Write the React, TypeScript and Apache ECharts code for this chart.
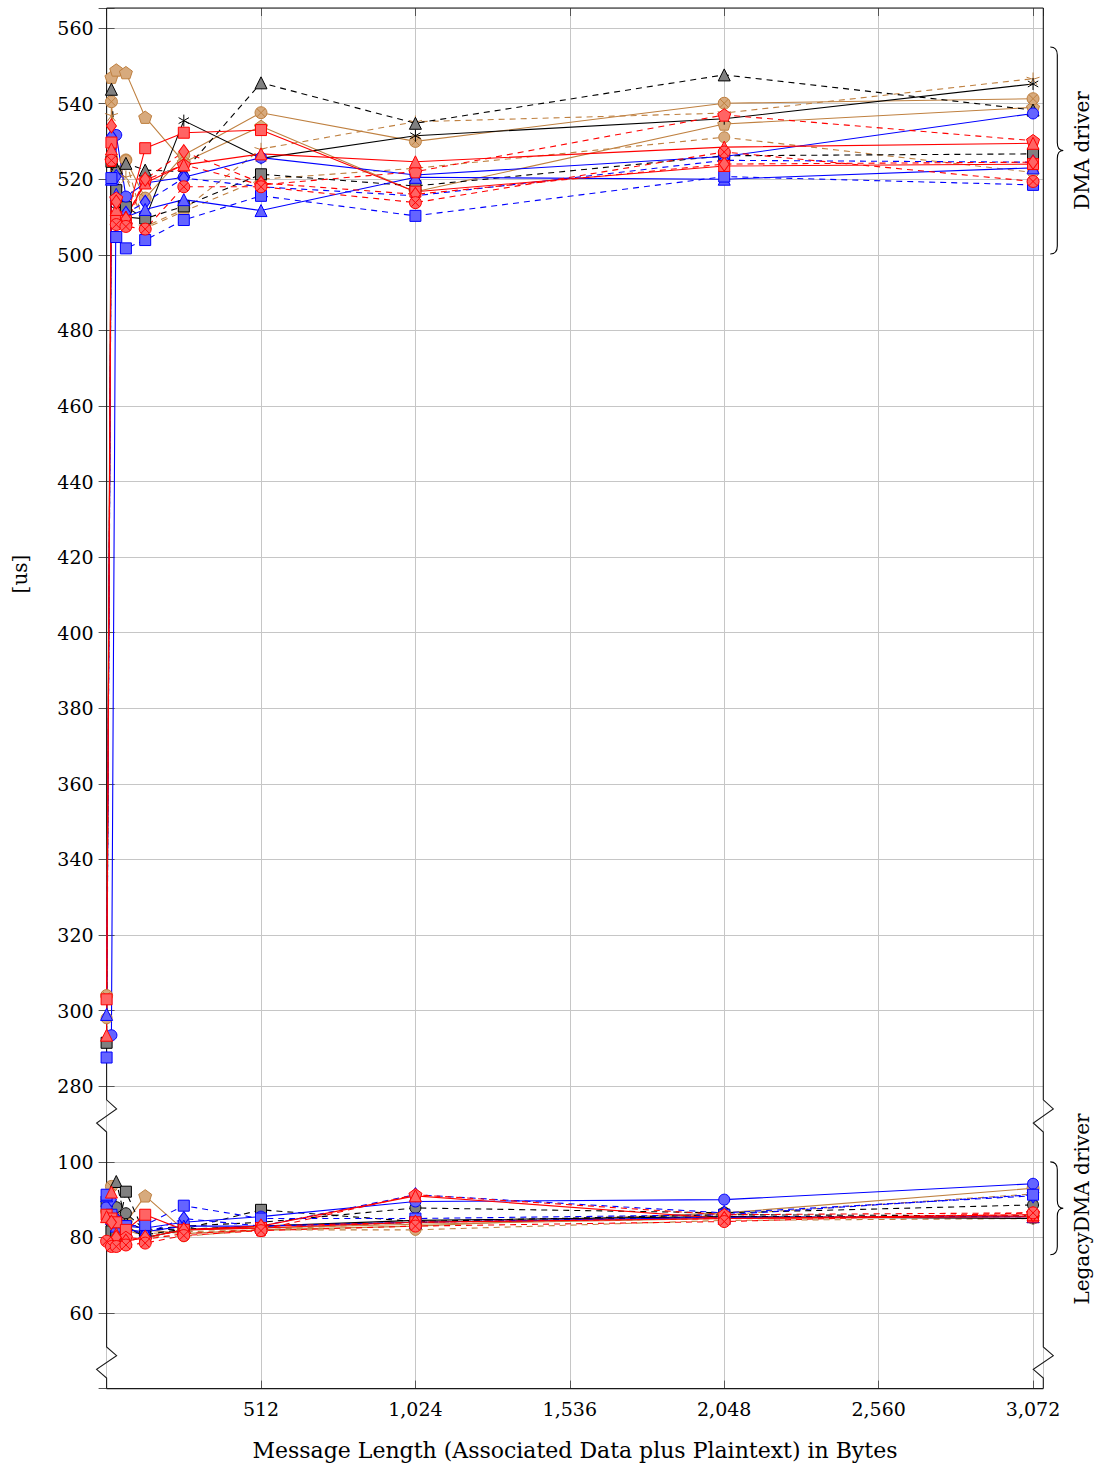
import React, { useEffect, useRef } from 'react';
import * as echarts from 'echarts';

// Message lengths (bytes)
const X = [0, 16, 32, 64, 128, 256, 512, 1024, 2048, 3072];
// Lower block (LegacyDMA) is drawn shifted up by this much on the broken axis
const LOWER_SHIFT = 160;
const X_TICKS = [512, 1024, 1536, 2048, 2560, 3072];
const Y_UPPER_TICKS = [280, 300, 320, 340, 360, 380, 400, 420, 440, 460, 480, 500, 520, 540, 560];
const Y_LOWER_TICKS = [60, 80, 100];

// DMA driver (upper) and LegacyDMA driver (lower) timings in us
const tanPentUpper = [null, 547.0, 548.9, 548.2, 536.4, 524.5, 534.0, 516.7, 534.6, 539.0];
const tanPentLower = [null, 87.5, 86.0, 84.0, 91.0, 82.0, 82.5, 83.5, 85.0, 85.5];
const tanOtimesUpper = [304.0, 540.5, 522.0, 525.1, 515.0, 526.4, 537.6, 530.0, 540.1, 541.3];
const tanOtimesLower = [87.0, 93.5, 85.0, 84.0, 82.0, 81.0, 82.0, 83.0, 86.5, 93.0];
const tanStarUpper = [null, 537.0, 520.5, 520.7, 507.5, 512.0, 528.0, 535.2, 537.5, 546.6];
const tanStarLower = [null, 88.0, 84.5, 82.5, 81.0, 81.5, 82.0, 84.0, 86.0, 91.5];
const tanCircUpper = [298.0, 526.0, 508.8, 525.0, 507.0, 511.5, 520.0, 522.9, 531.1, 521.8];
const tanCircLower = [88.0, 89.0, 84.0, 82.0, 80.3, 80.3, 82.0, 82.0, 84.5, 85.0];
const blkTriUpper = [null, 543.8, 523.0, 524.2, 522.4, 522.0, 545.5, 534.8, 547.6, 538.3];
const blkTriLower = [null, 88.5, 94.8, 84.0, 82.0, 82.2, 83.0, 84.0, 85.5, 85.5];
const blkAstUpper = [null, 524.0, 512.0, 510.0, 509.5, 535.5, 525.5, 531.5, 536.0, 545.2];
const blkAstLower = [null, 82.0, 85.0, 83.0, 80.0, 82.0, 83.0, 84.5, 85.5, 85.0];
const blkSqUpper = [291.5, 524.6, 517.1, 512.6, 509.6, 512.8, 521.3, 518.2, 526.2, 526.7];
const blkSqLower = [89.5, 81.6, 80.3, 92.1, 80.7, 82.2, 87.3, 84.2, 86.0, 85.7];
const blkCircUpper = [null, null, null, null, null, null, null, null, null, null];
const blkCircLower = [null, 87.0, 88.0, 86.4, 82.0, 83.0, 84.0, 87.8, 86.5, 88.6];
const bluCircUpper = [null, 293.5, 531.7, 515.4, 519.0, 520.5, 525.7, 521.1, 526.0, 537.4];
const bluCircLower = [88.0, 86.0, 84.0, 83.0, 82.5, 84.0, 85.5, 89.5, 90.0, 94.2];
const bluDiaUpper = [null, 531.3, 520.7, 511.0, 513.9, 520.3, 518.0, 515.6, 525.0, 524.5];
const bluDiaLower = [null, 90.0, 85.0, 82.0, 81.0, 85.0, 83.0, 91.3, 86.5, 91.0];
const bluTriUpper = [299.0, 520.0, 516.0, 510.0, 512.0, 514.6, 511.7, 520.5, 520.0, 523.0];
const bluTriLower = [91.0, 85.0, 83.0, 82.0, 81.5, 83.0, 83.0, 84.0, 85.3, 85.5];
const bluSqUpper = [287.6, 520.3, 504.7, 501.7, 503.9, 509.2, 515.6, 510.3, 520.7, 518.5];
const bluSqLower = [91.3, 86.0, 84.0, 83.0, 83.3, 88.4, 85.0, 85.0, 86.0, 91.3];
const redSqUpper = [303.0, 529.7, 510.0, 509.0, 528.2, 532.3, 533.0, 516.7, 523.5, 524.0];
const redSqLower = [86.0, 85.0, 84.0, 82.0, 86.0, 82.0, 82.5, 84.0, 85.0, 85.5];
const redPentUpper = [null, 525.0, 515.0, 508.0, 519.8, 523.8, 518.5, 522.0, 537.0, 530.2];
const redPentLower = [null, 78.0, 78.0, 80.0, 79.5, 81.0, 82.0, 91.3, 86.0, 86.5];
const redTriUpper = [293.5, 528.0, 512.0, 510.0, 519.0, 523.8, 526.7, 524.6, 528.5, 529.5];
const redTriLower = [85.5, 92.0, 81.0, 79.0, 80.0, 82.0, 83.0, 91.0, 85.0, 86.0];
const redDiaUpper = [null, 534.1, 514.0, 509.5, 520.0, 527.3, 519.0, 516.0, 524.0, 524.5];
const redDiaLower = [null, 84.0, 80.0, 79.0, 80.0, 82.0, 83.0, 84.0, 85.0, 86.0];
const redOtimesUpper = [null, 525.0, 508.0, 507.5, 506.8, 518.0, 518.0, 513.8, 527.2, 519.4];
const redOtimesLower = [79.0, 77.6, 77.6, 78.0, 78.5, 80.5, 81.8, 83.0, 84.2, 86.5];

const SYM = {
  circle: 'circle',
  square: 'rect',
  triangle: 'triangle',
  diamond: 'diamond',
  pentagon: 'path://M0,-1 L0.951,-0.309 L0.588,0.809 L-0.588,0.809 L-0.951,-0.309 Z',
  otimes: 'path://M1,0 A1,1 0 1,1 -1,0 A1,1 0 1,1 1,0 Z M0.707,0.707 L-0.707,-0.707 M-0.707,0.707 L0.707,-0.707',
  asterisk: 'path://M0,-1 L0,1 M-0.866,-0.5 L0.866,0.5 M-0.866,0.5 L0.866,-0.5',
  star: 'path://M0,0 L0,-1 M0,0 L0.951,-0.309 M0,0 L0.588,0.809 M0,0 L-0.588,0.809 M0,0 L-0.951,-0.309',
};
const SIZE = { circle: 11, square: 11, triangle: 12, diamond: [10, 14], pentagon: 13, otimes: 12, asterisk: 12, star: 13 };

const COL = {
  blue: { line: '#0000ff', fill: '#6464ff' },
  red: { line: '#ff0000', fill: '#ff6464' },
  tan: { line: '#bf8040', fill: '#d7aa7d' },
  black: { line: '#000000', fill: '#808080' },
};

const SERIES = [
  { c: 'tan', d: false, m: 'pentagon', up: tanPentUpper, lo: tanPentLower },
  { c: 'tan', d: false, m: 'otimes', up: tanOtimesUpper, lo: tanOtimesLower },
  { c: 'tan', d: true, m: 'star', up: tanStarUpper, lo: tanStarLower },
  { c: 'tan', d: true, m: 'circle', up: tanCircUpper, lo: tanCircLower },
  { c: 'black', d: true, m: 'triangle', up: blkTriUpper, lo: blkTriLower },
  { c: 'black', d: false, m: 'asterisk', up: blkAstUpper, lo: blkAstLower },
  { c: 'black', d: true, m: 'circle', up: blkCircUpper, lo: blkCircLower },
  { c: 'black', d: true, m: 'square', up: blkSqUpper, lo: blkSqLower },
  { c: 'blue', d: false, m: 'circle', up: bluCircUpper, lo: bluCircLower },
  { c: 'blue', d: true, m: 'diamond', up: bluDiaUpper, lo: bluDiaLower },
  { c: 'blue', d: false, m: 'triangle', up: bluTriUpper, lo: bluTriLower },
  { c: 'blue', d: true, m: 'square', up: bluSqUpper, lo: bluSqLower },
  { c: 'red', d: false, m: 'square', up: redSqUpper, lo: redSqLower },
  { c: 'red', d: true, m: 'pentagon', up: redPentUpper, lo: redPentLower },
  { c: 'red', d: false, m: 'triangle', up: redTriUpper, lo: redTriLower },
  { c: 'red', d: true, m: 'diamond', up: redDiaUpper, lo: redDiaLower },
  { c: 'red', d: true, m: 'otimes', up: redOtimesUpper, lo: redOtimesLower },
];

const FONT = '"DejaVu Serif", "Liberation Serif", serif';
const Y_MIN = 200;
const Y_MAX = 565.3;
const X_MAX = 3106;

function fmtThousands(v: number) {
  return String(v).replace(/\B(?=(\d{3})+(?!\d))/g, ',');
}

function makeSeries(s: any, vals: (number | null)[], shift: number) {
  const data = X.map((x, i) => (vals[i] == null ? null : [x, (vals[i] as number) + shift])).filter(Boolean);
  const col = (COL as any)[s.c];
  return {
    type: 'line',
    xAxisIndex: 0,
    yAxisIndex: 0,
    data,
    symbol: (SYM as any)[s.m],
    symbolSize: (SIZE as any)[s.m],
    symbolKeepAspect: true,
    showSymbol: true,
    clip: false,
    silent: true,
    lineStyle: { color: col.line, width: 1.1, type: s.d ? [6, 5] : 'solid' },
    itemStyle: { color: col.fill, borderColor: col.line, borderWidth: 1, opacity: 1 },
    emphasis: { disabled: true },
  };
}

export default function App() {
  const ref = useRef<HTMLDivElement>(null);
  useEffect(() => {
    if (!ref.current) return;
    const chart = echarts.init(ref.current, undefined, { renderer: 'svg' });
    const series: any[] = [];
    SERIES.forEach((s) => {
      if (s.up.some((v) => v != null)) series.push(makeSeries(s, s.up, 0));
      if (s.lo.some((v) => v != null)) series.push(makeSeries(s, s.lo, LOWER_SHIFT));
    });

    const yFormatter = (v: number) => {
      if (Y_UPPER_TICKS.includes(v)) return String(v);
      if (Y_LOWER_TICKS.includes(v - LOWER_SHIFT)) return String(v - LOWER_SHIFT);
      return '';
    };
    const xFormatter = (v: number) => (X_TICKS.includes(v) ? fmtThousands(v) : '');

    const tickStyle = { color: '#555', width: 1 };
    const gridLine = { show: true, lineStyle: { color: '#c6c6c6', width: 1 } };

    chart.setOption({
      animation: false,
      backgroundColor: '#ffffff',
      grid: { left: 106.6, right: 53.7, top: 8, bottom: 79.4, containLabel: false },
      xAxis: [
        {
          type: 'value', min: 0, max: X_MAX, interval: 512,
          axisLine: { show: false },
          axisTick: { show: true, inside: true, length: 8, lineStyle: tickStyle },
          axisLabel: { formatter: xFormatter, fontFamily: FONT, fontSize: 19, color: '#000', margin: 11, showMaxLabel: false, showMinLabel: false },
          splitLine: gridLine,
        },
        {
          type: 'value', position: 'top', min: 0, max: X_MAX, interval: 512,
          axisLine: { show: false },
          axisTick: { show: true, inside: true, length: 8, lineStyle: tickStyle },
          axisLabel: { show: false },
          splitLine: { show: false },
        },
      ],
      yAxis: [
        {
          type: 'value', min: Y_MIN, max: Y_MAX, interval: 20,
          axisLine: { show: false },
          axisTick: { show: true, inside: true, length: 8, lineStyle: tickStyle },
          axisLabel: { formatter: yFormatter, fontFamily: FONT, fontSize: 19, color: '#000', margin: 13 },
          splitLine: gridLine,
        },
        {
          type: 'value', position: 'right', min: Y_MIN, max: Y_MAX, interval: 20,
          axisLine: { show: false },
          axisTick: { show: true, inside: true, length: 8, lineStyle: tickStyle },
          axisLabel: { show: false },
          splitLine: { show: false },
        },
      ],
      series,
    });

    const px = (v: number) => chart.convertToPixel({ xAxisIndex: 0 }, v) as number;
    const py = (v: number) => chart.convertToPixel({ yAxisIndex: 0 }, v) as number;
    const xl = px(0);
    const xr = px(X_MAX);
    const yT = py(Y_MAX);
    const yB = py(Y_MIN);
    const b1a = py(276.4), b1b = py(267.9);
    const b2a = py(211.0), b2b = py(202.8);

    const spine = (x: number) => {
      const z = (a: number, b: number) => [
        [x, a],
        [x + 10, a + (b - a) * 0.28],
        [x - 10, a + (b - a) * 0.72],
        [x, b],
      ];
      return [[x, yT], ...z(b1a, b1b), ...z(b2a, b2b), [x, yB]];
    };

    const line = { stroke: '#1a1a1a', lineWidth: 1.1, fill: 'none' };

    // braces
    const bx = xr + 7;
    const brace = (top: number, bot: number) => {
      const mid = (top + bot) / 2;
      const a = bx, b = bx + 7, t = bx + 13;
      return `M ${a} ${top} Q ${b} ${top} ${b} ${top + 8} L ${b} ${mid - 8} Q ${b} ${mid} ${t} ${mid} Q ${b} ${mid} ${b} ${mid + 8} L ${b} ${bot - 8} Q ${b} ${bot} ${a} ${bot}`;
    };
    const uTop = py(555), uBot = py(500.2);
    const lTop = py(100 + LOWER_SHIFT), lBot = py(75.4 + LOWER_SHIFT);
    echarts.graphic.registerShape('braceUpper', echarts.graphic.extendPath(brace(uTop, uBot), {}));
    echarts.graphic.registerShape('braceLower', echarts.graphic.extendPath(brace(lTop, lBot), {}));

    const xc = (xl + xr) / 2;
    chart.setOption({
      graphic: [
        { type: 'polyline', z: 1, shape: { points: spine(xl) }, style: line, silent: true },
        { type: 'polyline', z: 1, shape: { points: spine(xr) }, style: line, silent: true },
        { type: 'line', z: 1, shape: { x1: xl, y1: yT, x2: xr, y2: yT }, style: line, silent: true },
        { type: 'line', z: 1, shape: { x1: xl, y1: yB, x2: xr, y2: yB }, style: line, silent: true },
        { type: 'braceUpper', x: 0, y: 0, z: 1, style: { stroke: '#000', lineWidth: 1.1, fill: 'none' }, silent: true },
        { type: 'braceLower', x: 0, y: 0, z: 1, style: { stroke: '#000', lineWidth: 1.1, fill: 'none' }, silent: true },
        {
          type: 'text', x: 1082, y: (uTop + uBot) / 2, rotation: Math.PI / 2, silent: true,
          style: { text: 'DMA driver', fontFamily: FONT, fontSize: 20, fill: '#000', align: 'center', verticalAlign: 'middle', textAlign: 'center', textVerticalAlign: 'middle' },
        },
        {
          type: 'text', x: 1082, y: 1209, rotation: Math.PI / 2, silent: true,
          style: { text: 'LegacyDMA driver', fontFamily: FONT, fontSize: 20, fill: '#000', align: 'center', verticalAlign: 'middle', textAlign: 'center', textVerticalAlign: 'middle' },
        },
        {
          type: 'text', x: 20, y: 574, rotation: Math.PI / 2, silent: true,
          style: { text: '[us]', fontFamily: FONT, fontSize: 20, fill: '#000', align: 'center', verticalAlign: 'middle', textAlign: 'center', textVerticalAlign: 'middle' },
        },
        {
          type: 'text', x: xc, y: 1450, silent: true,
          style: { text: 'Message Length (Associated Data plus Plaintext) in Bytes', fontFamily: FONT, fontSize: 22, fill: '#000', align: 'center', verticalAlign: 'middle', textAlign: 'center', textVerticalAlign: 'middle' },
        },
      ],
    });

    return () => chart.dispose();
  }, []);

  return (
    <div
      ref={ref}
      style={{ position: 'fixed', left: 0, top: 0, width: 1097, height: 1468, background: '#fff' }}
    />
  );
}
